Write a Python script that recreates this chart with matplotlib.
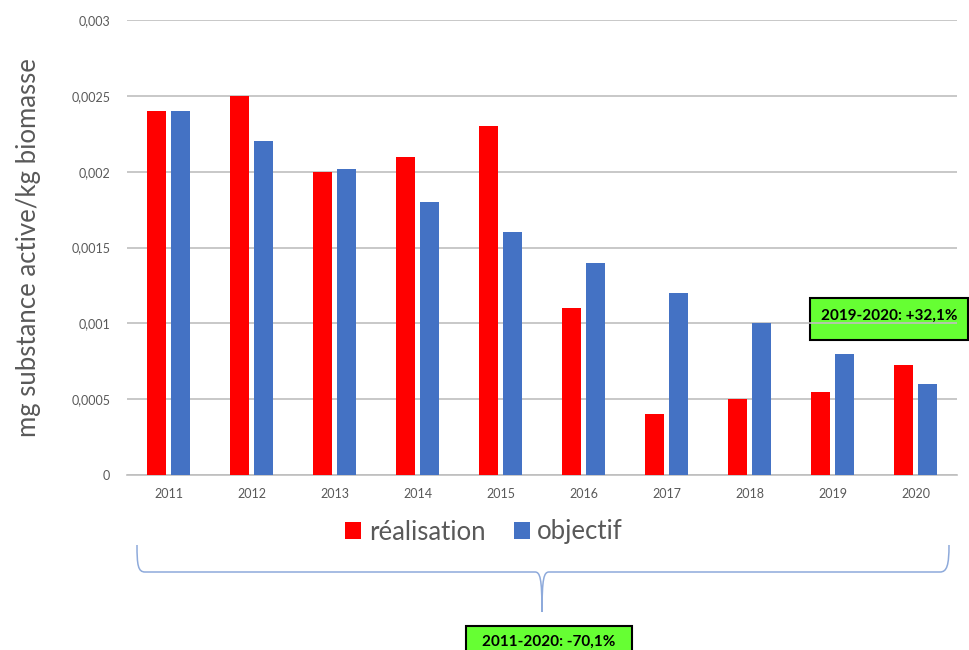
import matplotlib
matplotlib.use("Agg")
import matplotlib.pyplot as plt
import numpy as np
from matplotlib.path import Path
from matplotlib.patches import PathPatch, Rectangle

plt.rcParams['font.family'] = ['Lato', 'DejaVu Sans']

years = ['2011', '2012', '2013', '2014', '2015', '2016', '2017', '2018', '2019', '2020']
realisation = [0.0024, 0.0025, 0.0020, 0.0021, 0.0023, 0.0011, 0.0004, 0.0005, 0.00055, 0.000725]
objectif = [0.0024, 0.0022, 0.00202, 0.0018, 0.0016, 0.0014, 0.0012, 0.0010, 0.0008, 0.0006]
yticks = [0, 0.0005, 0.001, 0.0015, 0.002, 0.0025, 0.003]
yticklabels = ['0', '0,0005', '0,001', '0,0015', '0,002', '0,0025', '0,003']
legend_labels = ['réalisation', 'objectif']
box_labels = ['2019-2020: +32,1%', '2011-2020: -70,1%']

W, H = 969, 650
fig = plt.figure(figsize=(W / 100, H / 100), dpi=100)
ax = fig.add_axes([127 / W, 1 - 475 / H, 830 / W, 455 / H])
ax.set_facecolor('none')

x = np.arange(len(years))
bw = 0.23
gap = 0.06
red = '#ff0000'
blue = '#4472c4'
b1 = ax.bar(x - (bw + gap) / 2, realisation, bw, color=red, label=legend_labels[0], zorder=3)
b2 = ax.bar(x + (bw + gap) / 2, objectif, bw, color=blue, label=legend_labels[1], zorder=3)

ax.set_xlim(-0.5, len(years) - 0.5)
ax.set_ylim(0, 0.003)
ax.set_yticks(yticks)
ax.set_yticklabels(yticklabels)
ax.set_xticks(x)
ax.set_xticklabels(years)
ax.tick_params(axis='both', length=0, labelsize=9, labelcolor='#595959')
ax.tick_params(axis='y', pad=12)
ax.tick_params(axis='x', pad=9)
ax.yaxis.grid(True, color='#bfbfbf', linewidth=1.2, zorder=1)
ax.set_axisbelow(True)
for s in ['top', 'right', 'left']:
    ax.spines[s].set_visible(False)
ax.spines['bottom'].set_color('#bfbfbf')
ax.spines['bottom'].set_linewidth(1.2)

ax.set_ylabel('mg substance active/kg biomasse', fontsize=18.5, color='#595959', labelpad=22)

leg = fig.legend(handles=[b1, b2], loc='center', bbox_to_anchor=(484 / W, 1 - 532 / H),
                 ncol=2, frameon=False, fontsize=18.5, labelcolor='#595959',
                 handlelength=0.62, handleheight=0.62, handletextpad=0.3, columnspacing=1.1)

# brace
def fx(px):
    return px / W

def fy(py):
    return 1 - py / H

verts = [
    (137, 545), (137, 565), (138, 572), (145, 572),
    (535, 572), (540, 572), (542, 578), (542, 612),
    (542, 578), (544, 572), (549, 572),
    (940, 572), (947, 572), (949, 565), (949, 545),
]
codes = [Path.MOVETO, Path.CURVE4, Path.CURVE4, Path.CURVE4,
         Path.LINETO, Path.CURVE4, Path.CURVE4, Path.CURVE4,
         Path.CURVE4, Path.CURVE4, Path.CURVE4,
         Path.LINETO, Path.CURVE4, Path.CURVE4, Path.CURVE4]
path = Path([(fx(a), fy(b)) for a, b in verts], codes)
fig.patches.append(PathPatch(path, transform=fig.transFigure, fill=False,
                             edgecolor='#8eaadb', linewidth=1.1, figure=fig))

# annotation boxes
green = '#66ff33'
r1 = Rectangle((fx(810), fy(340)), (968 - 810) / W, (340 - 298) / H, transform=fig.transFigure,
               facecolor=green, edgecolor='black', linewidth=1.5, zorder=-1, figure=fig)
fig.patches.append(r1)
fig.text(fx(889), fy(316), box_labels[0], ha='center', va='center', fontsize=11,
         fontweight='bold', color='black', zorder=-0.5)
r2 = Rectangle((fx(466), fy(660)), (632 - 466) / W, (660 - 626) / H, transform=fig.transFigure,
               facecolor=green, edgecolor='black', linewidth=1.5, zorder=-1, figure=fig)
fig.patches.append(r2)
fig.text(fx(549), fy(642), box_labels[1], ha='center', va='center', fontsize=11,
         fontweight='bold', color='black', zorder=-0.5)

fig.savefig('out.png', dpi=100, facecolor='white')
